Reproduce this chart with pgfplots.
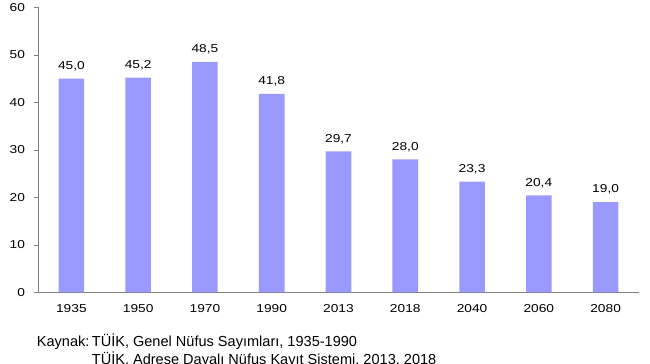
\documentclass[border=0pt]{standalone}
\usepackage{pgfplots}
\pgfplotsset{compat=1.18}
\usepackage{fontspec}
\setmainfont{Liberation Sans}
\usetikzlibrary{calc}
\definecolor{barc}{HTML}{9999FF}
\newcommand\lblfont{\fontsize{11.5}{13}\selectfont\addfontfeatures{FakeStretch=1.2}}
\newcommand\capfont{\fontsize{14.6}{16}\selectfont}
\begin{document}
\begin{tikzpicture}
\begin{axis}[
  scale only axis,
  width=601bp, height=285bp,
  ymin=0, ymax=60,
  xmin=-0.5, xmax=8.5,
  ytick={0,10,...,60},
  xtick={0,...,8},
  xticklabels={1935,1950,1970,1990,2013,2018,2040,2060,2080},
  extra x ticks={-0.5,0.5,...,8.5},
  extra x tick labels={},
  extra x tick style={major tick length=3.5bp, tick align=outside, tick style={gray}},
  axis x line*=bottom, axis y line*=left,
  axis line style={gray},
  x axis line style={-}, y axis line style={-},
  xtick style={draw=none},
  ytick style={gray},
  tick align=outside,
  major tick length=3.5bp,
  tick label style={font=\lblfont},
  yticklabel style={xshift=-6bp},
  xticklabel style={yshift=-5bp},
  /pgf/number format/assume math mode=true,
  ybar, bar width=25.6bp,
  nodes near coords={\pgfmathprintnumber[use comma,fixed,fixed zerofill,precision=1]{\pgfplotspointmeta}},
  nodes near coords style={font=\lblfont, yshift=4.3bp},
]
\addplot[fill=barc, draw=none] coordinates {(0,45.0) (1,45.2) (2,48.5) (3,41.8) (4,29.7) (5,28.0) (6,23.3) (7,20.4) (8,19.0)};
\end{axis}
\path[use as bounding box] ($(current axis.south west)+(-38bp,-71bp)$) rectangle ($(current axis.south west)+(612bp,289bp)$);
\node[anchor=base west, font=\capfont, inner sep=0pt] at ($(current axis.south west)+(-1.3bp,-54.3bp)$) {Kaynak:\,TÜİK, Genel Nüfus Sayımları, 1935-1990};
\node[anchor=base west, font=\capfont, inner sep=0pt] at ($(current axis.south west)+(53.7bp,-72bp)$) {TÜİK, Adrese Dayalı Nüfus Kayıt Sistemi, 2013, 2018};
\end{tikzpicture}
\end{document}
